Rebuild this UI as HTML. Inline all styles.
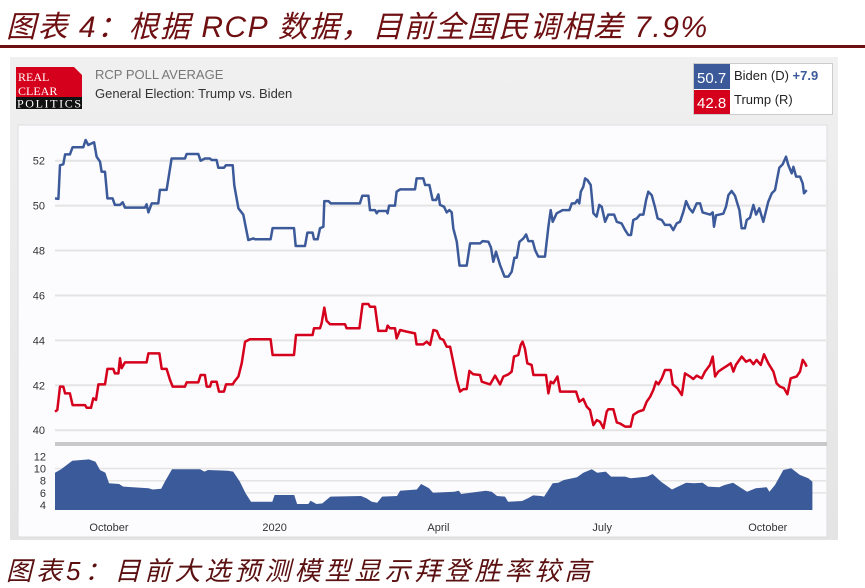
<!DOCTYPE html>
<html><head><meta charset="utf-8">
<style>
html,body{margin:0;padding:0;width:865px;height:560px;overflow:hidden;background:#fff;font-family:"Liberation Sans","Noto Sans CJK SC",sans-serif;}
#title{position:absolute;left:6px;top:2px;font-size:30px;font-style:italic;color:#6e0f12;font-family:"Liberation Sans","Noto Sans CJK SC",sans-serif;white-space:nowrap;letter-spacing:1.5px}
#rule{position:absolute;left:0;top:45px;width:865px;height:3px;background:#6e0f12}
#panel{position:absolute;left:10px;top:57px;width:828px;height:483px;background:linear-gradient(#f0f0f0,#e4e4e4);}
#next{position:absolute;left:6px;top:551px;font-size:26px;color:#5a1010;white-space:nowrap;font-style:italic;letter-spacing:4px}
svg{position:absolute;left:0;top:0}
</style></head><body>
<div id="title">图表 4：根据 RCP 数据，目前全国民调相差 7.9%</div>
<div id="rule"></div>
<div id="panel"></div>
<div id="next">图表5：目前大选预测模型显示拜登胜率较高</div>
<svg id="chart" width="865" height="560">
 <g>
  <rect x="16" y="67" width="66" height="30" fill="#d5001c"/>
  <polygon points="74,67 82,67 82,75" fill="#f0f0f0"/>
  <rect x="16" y="97" width="66" height="12" fill="#111"/>
  <text x="18" y="81" font-family="Liberation Serif" font-size="12" fill="#fff">REAL</text>
  <text x="18" y="95" font-family="Liberation Serif" font-size="12" fill="#fff">CLEAR</text>
  <text x="17" y="107.5" font-family="Liberation Serif" font-size="12" fill="#fff" textLength="64">POLITICS</text>
 </g>
 <text x="95" y="79" font-size="13" fill="#777">RCP POLL AVERAGE</text>
 <text x="95" y="98" font-size="13" fill="#333">General Election: Trump vs. Biden</text>
 <g>
  <rect x="693.5" y="63.5" width="139" height="51" fill="#fff" stroke="#ccc"/>
  <rect x="694" y="64" width="36" height="25" fill="#3c5a9a"/>
  <rect x="694" y="90" width="36" height="24" fill="#d5001c"/>
  <svg x="694" y="64" width="36" height="50"><text x="3" y="19" font-size="15" fill="#fff">50.7</text><text x="3" y="44" font-size="15" fill="#fff">42.8</text></svg>
  <text x="734" y="80" font-size="13" fill="#222">Biden (D) <tspan fill="#3c5a9a" font-weight="bold">+7.9</tspan></text>
  <text x="734" y="104" font-size="13" fill="#222">Trump (R)</text>
 </g>
 <rect x="18" y="125" width="809" height="412" fill="#fcfcfe" stroke="#ddd"/>
 <g id="grid"></g>
 <g id="series"></g>
 <rect x="55" y="442" width="772" height="4" fill="#c8c8c8"/>
 <g id="xaxis"></g>
</svg>
<script>
const mainTicks=[40,42,44,46,48,50,52];
const spreadTicks=[4,6,8,10,12];
const monthLabels=["October","2020","April","July","October"];
const monthDays=[30,122,213,304,396];
const bidenDays=[0,1.9,2.8,4.6,5.6,8.3,9.8,15.7,17,18.5,20.4,21.7,23.1,25,25.9,27.8,29.1,32,33.3,36.1,37.6,38.9,50,50.9,51.9,53.7,57.4,58.3,62,64.8,72.2,73.1,79.6,80.9,83.3,86.1,87,89.8,90.7,93.9,95,98.7,99.6,101.9,104.6,107.4,110.2,111.1,119.8,120.9,132.8,133.7,138.9,140.2,143.1,143.9,145.9,147.2,149.1,149.6,151.9,153.3,169.4,170.7,174.1,175,177.8,178.7,179.6,184.3,184.8,185.6,188.9,189.8,191.7,200,200.9,204.6,205.6,208,209.8,211.7,213,213.9,216.1,217.6,219.1,220.4,221.3,223.2,224.7,228.7,230.6,236.1,237.6,240.8,242.2,243.5,245,247.2,249.7,251.9,253.7,255.2,256.5,258,260.2,261.7,263,265.4,266.7,268.5,272.2,274.1,275.4,276.5,278.7,282,285.8,287.1,288.9,290.2,291.3,292.1,293.5,294.5,295.8,297.6,299.1,300.9,302.4,303.7,305.6,307.4,310.6,312.1,314.8,316.7,318.5,320,321.3,323.2,325,326.9,328.4,329.6,331.5,333.4,334.8,337.1,338.9,341.7,343.5,345.4,347.2,349.1,350.6,352.4,354.3,356.5,358.4,359.8,363.9,365.4,366.1,367.2,371.3,372.8,374.1,375.9,377.8,380.2,381.5,383.3,384.3,386.1,388,389.5,391.3,393.5,396.3,398.2,400,402.4,404.3,406.1,407.4,409.3,410.2,411.7,413.9,415.4,416.1,417.6];
const bidenValues=[50.32,50.3,51.8,51.84,52.28,52.28,52.6,52.6,52.92,52.7,52.77,52.82,52.18,51.96,51.51,51.51,50.32,50.32,50.03,50.03,50.15,49.91,49.91,50.06,49.7,50.1,50.1,50.7,50.7,52.1,52.1,52.3,52.3,52.0,52.1,52.1,52.03,52.03,51.69,51.69,51.8,51.8,50.9,49.88,49.6,48.47,48.54,48.5,48.5,49.0,49.0,48.2,48.2,48.8,48.8,48.5,48.5,48.99,49.06,50.2,50.2,50.1,50.1,50.44,50.44,49.8,49.8,49.66,49.76,49.76,49.66,50.0,50.0,50.62,50.72,50.72,51.21,51.21,50.92,50.92,50.25,50.25,50.5,50.03,49.95,49.7,49.8,49.7,48.99,48.39,47.33,47.33,48.32,48.32,48.42,48.39,48.13,47.5,47.95,47.36,46.84,46.84,47.06,47.68,47.68,48.39,48.54,48.72,48.42,48.42,48.02,47.73,47.73,49.06,49.8,49.28,49.66,49.8,49.8,50.1,50.1,50.25,50.1,50.62,50.84,51.21,51.14,50.92,49.66,49.51,50.03,49.95,49.28,49.6,49.6,49.28,49.21,48.91,48.69,48.69,49.36,49.43,49.6,49.6,50.25,50.62,50.47,49.91,49.43,49.36,49.14,49.14,48.91,49.21,49.28,49.73,50.2,49.88,49.7,50.1,50.1,49.7,49.6,49.7,49.06,49.57,49.64,49.95,50.47,50.65,50.44,49.8,48.99,48.99,49.36,49.46,50.03,49.6,49.88,49.28,50.18,50.55,50.69,51.69,51.84,52.18,51.81,51.44,51.73,51.29,51.29,50.99,50.55,50.69];
const trumpDays=[0,1.3,2.8,4.6,5.6,8.3,9.8,16.7,17.6,20,21.3,22.8,24.1,27.8,29.1,32.4,33.3,35.2,36.1,37,38.9,50.9,51.9,58,59.3,62,63.9,65.4,72.2,73.1,79.6,80.9,83.3,84.3,86.1,87,89.8,91.1,93.9,95,98.7,99.6,101.9,103.7,105.6,108.3,119.8,120.9,132.8,133.9,143.1,143.9,147.2,148.1,149.6,150.9,152.8,161.1,162,169.1,170.9,174.1,175,177.8,179.6,184,184.8,186.1,188.9,189.8,191.7,195.4,200,200.9,204.6,206.5,208.4,210.2,212.1,213.9,215.8,217.6,219.5,221.3,223.2,225,226.9,228.7,230.2,232.4,236.1,237.1,241.7,244.5,247.2,249.1,251.9,253.7,255,257.4,258.7,259.8,261.1,262.4,264.8,265.8,272.8,274.1,275.4,276.9,279.1,280.6,289.5,291.3,293.5,295.4,297.2,299.1,301,302.8,304.7,306.5,307.4,310.2,312.1,313.9,316.7,319.8,321.3,324.1,326.9,328.7,330.6,332.4,333.9,335.2,337.1,338.9,342,343.2,345.8,348.2,350,352.8,354.6,356.5,359.3,361.1,363.9,365.4,366.7,368.5,371.3,374.1,375.4,376.9,378.3,381.5,383.9,386.1,388,389.8,392.1,393.9,396.3,399.1,400.9,402.8,405,406.9,408.7,412,413.9,415.4,416.7,417.6];
const trumpValues=[40.83,40.9,41.94,41.94,41.64,41.64,41.12,41.12,41.0,41.0,41.42,41.35,42.04,42.04,42.73,42.73,42.53,42.53,43.2,42.76,43.02,43.02,43.42,43.42,42.73,42.73,42.24,41.94,41.94,42.13,42.13,42.46,42.46,41.94,41.94,42.16,42.16,41.72,41.72,42.04,42.04,42.16,42.39,42.98,43.94,44.05,44.05,43.35,43.35,44.24,44.24,44.54,44.54,44.76,45.46,44.87,44.72,44.72,44.54,44.54,45.62,45.62,45.5,45.5,44.42,44.42,44.66,44.54,44.54,44.09,44.46,44.39,44.31,43.82,43.82,43.94,43.8,44.46,44.42,44.09,44.02,43.72,43.72,43.02,42.24,41.72,41.83,41.83,42.64,42.49,42.46,42.16,42.04,42.43,42.04,42.39,42.49,42.61,43.28,43.35,43.8,43.94,43.62,42.98,42.91,42.46,42.46,41.64,42.16,42.09,42.39,41.72,41.72,41.27,41.39,41.05,40.9,40.23,40.45,40.38,40.09,40.83,40.93,40.93,40.35,40.3,40.16,40.16,40.68,40.83,40.9,41.27,41.49,41.79,42.16,42.04,42.31,42.68,42.68,42.04,41.87,41.57,42.53,42.39,42.28,42.43,42.31,42.61,42.91,43.28,42.39,42.61,42.76,42.91,42.98,42.61,42.91,43.28,43.05,43.13,42.94,43.13,42.91,43.38,42.98,42.61,42.09,41.94,41.87,41.6,42.31,42.39,42.61,43.13,42.98,42.83];
const spreadDays=[0,3.4,9.6,18.9,22.5,25,28,30,35.6,37.9,52,54.3,59,61,65,80.6,83,85,96,99,102.7,105.9,108.9,120.7,122,132.9,134.5,140.7,142,145.3,148.5,153,170,173,176,179,181.7,190,191.7,201,203.4,205.5,207.8,210,221.8,224.4,225.6,239.4,242.6,245.6,250,251.7,259.5,262.7,265.6,270,271.7,276.5,279.6,282.7,290,293.5,298.2,301.2,306,308.9,316.7,319.8,328.9,332,336.7,342.8,350.6,355,359.8,362.8,369,372,376.7,380,384.5,389.3,395.4,396.9,400,404.6,409,413.9,418.5,420.8];
const spreadValues=[9.31,9.87,11.28,11.5,11.1,9.76,9.31,7.57,7.46,7.03,6.75,6.56,6.67,7.84,9.87,9.87,9.5,9.76,9.65,9.5,7.84,5.93,4.56,4.56,5.66,5.66,4.18,4.18,4.73,4.18,4.29,5.39,5.5,5.11,4.56,4.4,5.39,5.5,6.37,6.56,7.46,7.13,6.75,6.04,6.2,6.37,5.83,6.37,6.2,5.5,5.39,4.56,4.67,5.11,5.6,5.5,5.39,7.57,7.68,8.12,8.56,9.31,9.87,9.31,9.5,8.67,8.67,8.4,8.67,9.1,7.84,6.56,7.68,7.57,7.68,7.03,6.93,7.3,7.68,7.03,6.2,6.75,6.93,6.2,7.3,9.76,10.03,8.94,8.4,7.84];

const NS='http://www.w3.org/2000/svg';
const xS=d=>55+d*1.8;
const yMain=v=>160.7+(52-v)*22.46;
const ySpread=v=>510-(v-3.2)*6.1;
function mk(tag,attrs,parent){const e=document.createElementNS(NS,tag);for(const k in attrs)e.setAttribute(k,attrs[k]);parent.appendChild(e);return e;}
const grid=document.getElementById('grid'),series=document.getElementById('series'),xaxis=document.getElementById('xaxis');
mainTicks.forEach(t=>{
  const l=mk('line',{x1:55,x2:826,y1:yMain(t),y2:yMain(t),stroke:'#e4e4e4','stroke-width':2},grid);
  
  
  const tx=mk('text',{x:45,y:yMain(t)+4,'font-size':11,fill:'#333','text-anchor':'end'},grid);
  tx.textContent=t;
  
  
});
spreadTicks.forEach(t=>{
  if(t>=6&&t<=10){const l=mk('line',{x1:55,x2:826,y1:ySpread(t),y2:ySpread(t),stroke:'#e4e4e4','stroke-width':1.5},grid);
  
  }
  const tx=mk('text',{x:46,y:ySpread(t)+4,'font-size':11,fill:'#333','text-anchor':'end'},grid);
  tx.textContent=t;
  
  
});
function line(days,vals,color,name){
  const pts=days.map((d,i)=>xS(d).toFixed(1)+','+yMain(vals[i]).toFixed(1)).join(' ');
  const p=mk('polyline',{points:pts,fill:'none',stroke:color,'stroke-width':2.5,'stroke-linejoin':'round'},series);
  
  
}
line(bidenDays,bidenValues,'#3c5a9a','biden-line');
line(trumpDays,trumpValues,'#d5001c','trump-line');
let ap='M'+xS(spreadDays[0]).toFixed(1)+','+ySpread(3.2);
spreadDays.forEach((d,i)=>{ap+=' L'+xS(d).toFixed(1)+','+ySpread(spreadValues[i]).toFixed(1);});
ap+=' L'+xS(spreadDays[spreadDays.length-1]).toFixed(1)+','+ySpread(3.2)+' Z';
const area=mk('path',{d:ap,fill:'#3b5a99'},series);


monthLabels.forEach((m,i)=>{
  const tx=mk('text',{x:xS(monthDays[i]),y:531,'font-size':11,fill:'#333','text-anchor':'middle'},xaxis);
  tx.textContent=m;
  
  
});
</script>
</body></html>
